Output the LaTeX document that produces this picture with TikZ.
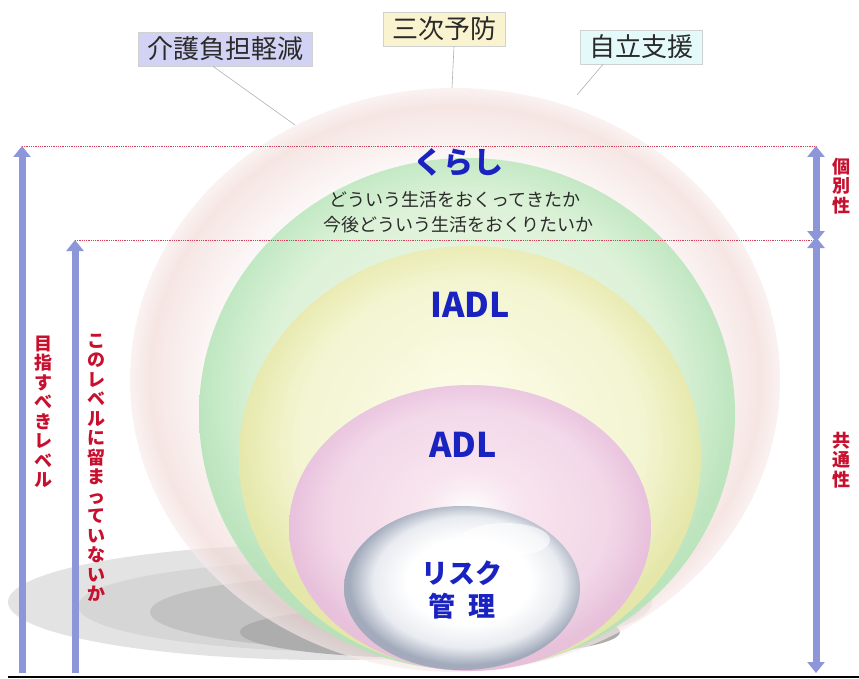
\documentclass[tikz,border=0pt]{standalone}
\usepackage{fontspec}
\setmainfont{Noto Sans CJK JP}
\usetikzlibrary{arrows.meta}
\definecolor{arrowblue}{HTML}{8E96DA}
\definecolor{levelred}{HTML}{C8102E}
\definecolor{titleblue}{HTML}{1A22C0}
\definecolor{boxlav}{HTML}{D2D3F4}
\definecolor{boxcream}{HTML}{FAF3CF}
\definecolor{boxcyan}{HTML}{E4FAFA}
\definecolor{textgray}{HTML}{2A2A2A}
\definecolor{greenrim}{HTML}{B4E4B8}
\definecolor{greenmid}{HTML}{E8F6DE}
\definecolor{yellowrim}{HTML}{E8E8A8}
\definecolor{yellowmid}{HTML}{FBFBE2}
\definecolor{pinkrim}{HTML}{E8BEDE}
\definecolor{pinkmid}{HTML}{F8E4F0}
\definecolor{silverrim}{HTML}{A2AABB}
\definecolor{silvermid}{HTML}{E8EBF0}
\definecolor{outerrim}{HTML}{F1D9D6}
% bubble shadings: pale interior, colour gathering towards the rim (rim at 25bp)
\pgfdeclareradialshading{outerball}{\pgfpoint{0bp}{0bp}}{color(0bp)=(white); color(17bp)=(white); color(23.5bp)=(outerrim); color(25bp)=(outerrim!50!white); color(50bp)=(outerrim!50!white)}
\pgfdeclareradialshading{greenball}{\pgfpoint{0bp}{3bp}}{color(0bp)=(white); color(7bp)=(greenmid); color(19bp)=(greenmid!70!greenrim); color(25bp)=(greenrim); color(50bp)=(greenrim)}
\pgfdeclareradialshading{yellowball}{\pgfpoint{0bp}{3bp}}{color(0bp)=(white); color(7bp)=(yellowmid); color(19bp)=(yellowmid!70!yellowrim); color(25bp)=(yellowrim); color(50bp)=(yellowrim)}
\pgfdeclareradialshading{pinkball}{\pgfpoint{0bp}{3bp}}{color(0bp)=(white); color(7bp)=(pinkmid); color(19bp)=(pinkmid!65!pinkrim); color(25bp)=(pinkrim); color(50bp)=(pinkrim)}
\pgfdeclareradialshading{silverball}{\pgfpoint{2bp}{3bp}}{color(0bp)=(white); color(13bp)=(white); color(20bp)=(silvermid); color(25bp)=(silverrim); color(50bp)=(silverrim)}
\tikzset{
  labelbox/.style={draw=black!18, line width=0.6pt, inner xsep=9pt, inner ysep=5pt,
    font=\fontsize{26}{28}\selectfont, text=textgray},
  leader/.style={draw=black!30, line width=0.6pt},
  levelarrow/.style={arrowblue, line width=7pt, -{Triangle[width=17pt,length=11pt]}},
  levelboth/.style={arrowblue, line width=7pt, {Triangle[width=17pt,length=11pt]}-{Triangle[width=17pt,length=11pt]}},
  guide/.style={levelred!80, densely dotted, line width=0.8pt},
  vtext/.style={text=levelred, align=center, font=\fontsize{18}{19.5}\selectfont\bfseries},
  sphtitle/.style={text=titleblue, font=\fontsize{34}{36}\selectfont\bfseries},
  subline/.style={text=textgray, font=\fontsize{18}{20}\selectfont}
}
\begin{document}
\begin{tikzpicture}[x=1pt,y=-1pt]
\useasboundingbox (0,0) rectangle (859,679);
\fill[white] (0,0) rectangle (859,679);

% ground shadows
\fill[black!11] (330,602) ellipse (322 and 58);
\fill[black!16] (360,606) ellipse (282 and 46);
\fill[black!24] (390,612) ellipse (240 and 38);
\fill[black!32] (430,632) ellipse (190 and 26);

% outer bubble
\shade[shading=outerball, opacity=0.65] (455,380) ellipse (325 and 292);
% green bubble
\shade[shading=greenball, opacity=0.88] (467,414) ellipse (268 and 256);
% yellow bubble
\shade[shading=yellowball, opacity=0.92] (470,458) ellipse (231 and 212);
% pink bubble
\shade[shading=pinkball, opacity=0.94] (470,528) ellipse (181 and 143);
% silver bubble
\shade[shading=silverball] (462,588) ellipse (118 and 82);
\fill[white, opacity=0.6] (505,540) ellipse (45 and 17);

% top labels
\node[labelbox, fill=boxlav] (care) at (225,49) {介護負担軽減};
\node[labelbox, fill=boxcream] (tertiary) at (444,29) {三次予防};
\node[labelbox, fill=boxcyan] (selfsupport) at (641,47) {自立支援};
\coordinate (careend) at (295,125);
\coordinate (tertend) at (452,88);
\coordinate (selfend) at (577,95);
\draw[leader] (care.south) ++(-12,0) -- (careend);
\draw[leader] (tertiary.south) ++(10,0) -- (tertend);
\draw[leader] (selfsupport.south) ++(-38,0) -- (selfend);

% level guides
\coordinate (topL) at (22,146);
\coordinate (topR) at (816,146);
\coordinate (midL) at (75,240);
\coordinate (midR) at (816,240);
\coordinate (baseA) at (22,673);
\coordinate (baseB) at (75,673);
\coordinate (baseR) at (816,673);
\draw[guide] (topL) -- (topR);
\draw[guide] (midL) -- (midR);

% arrows
\draw[levelarrow] (baseA) -- (topL);
\draw[levelarrow] (baseB) -- (midL);
\draw[levelboth] (topR) -- ([yshift=-2]midR);
\draw[levelboth] ([yshift=3]midR) -- (baseR);

% baseline
\coordinate (lineL) at (8,677);
\coordinate (lineR) at (859,677);
\draw[black, line width=2.5pt] (lineL) -- (lineR);

% vertical captions
\node[vtext] (goal) at (43,412) {目\\指\\す\\べ\\き\\レ\\ベ\\ル};
\node[vtext] (stay) at (96,468) {こ\\の\\レ\\ベ\\ル\\に\\留\\ま\\っ\\て\\い\\な\\い\\か};
\node[vtext] (indiv) at (841,186) {個\\別\\性};
\node[vtext] (common) at (841,460) {共\\通\\性};

% bubble captions
\node[sphtitle, font=\fontsize{30}{32}\selectfont\bfseries] (kurashi) at (458,162) {くらし};
\node[subline] (past) at (455,200) {どういう生活をおくってきたか};
\node[subline] (future) at (458,225) {今後どういう生活をおくりたいか};
\node[sphtitle] (iadl) at (470,305) {IADL};
\node[sphtitle] (adl) at (463,445) {ADL};
\node[sphtitle, font=\fontsize{27}{29}\selectfont\bfseries] (risk) at (462,573) {リスク};
\node[sphtitle, font=\fontsize{27}{29}\selectfont\bfseries] (manage) at (462,606) {管\hspace{14pt}理};
\end{tikzpicture}
\end{document}
